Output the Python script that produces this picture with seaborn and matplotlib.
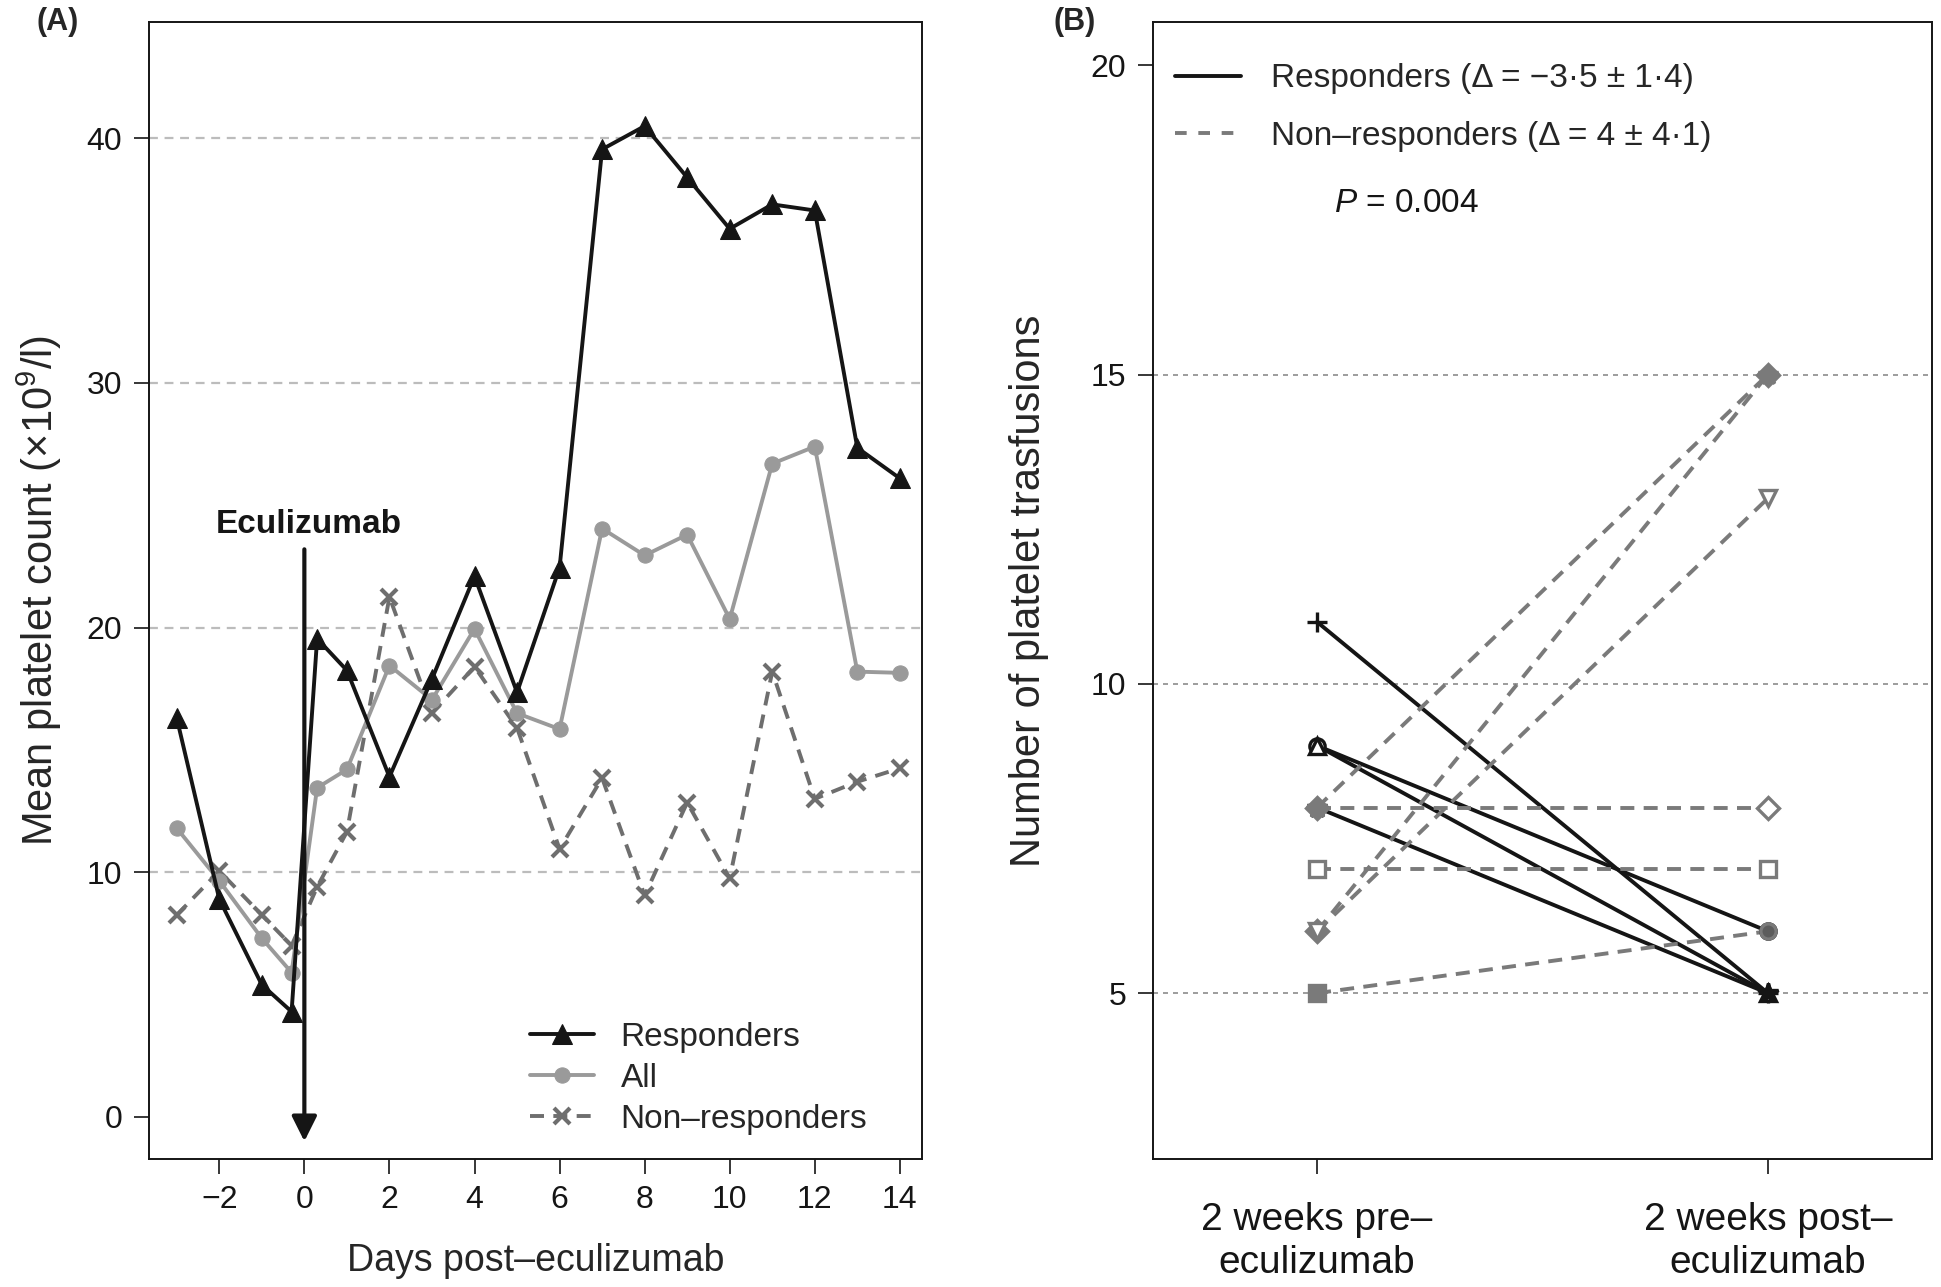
import pandas as pd
import matplotlib
matplotlib.use('Agg')
import matplotlib.pyplot as plt
import seaborn as sns
from matplotlib.lines import Line2D

# ---- panel A data: mean platelet count around eculizumab start
days = [-3, -2, -1, -0.3, 0.3, 1, 2, 3, 4, 5, 6, 7, 8, 9, 10, 11, 12, 13, 14]
responders = [16.3, 8.9, 5.4, 4.3, 19.55, 18.25, 13.9, 17.9, 22.1, 17.35, 22.45,
              39.55, 40.5, 38.4, 36.3, 37.3, 37.05, 27.35, 26.1]
all_patients = [11.8, 9.65, 7.3, 5.9, 13.45, 14.2, 18.45, 17.05, 19.95, 16.5, 15.85,
                24.05, 22.95, 23.8, 20.35, 26.7, 27.4, 18.2, 18.15]
non_responders = [8.25, 10.05, 8.25, 7.0, 9.4, 11.65, 21.25, 16.5, 18.4, 15.9, 10.95,
                  13.85, 9.05, 12.85, 9.75, 18.2, 13.0, 13.7, 14.25]
left_yticks = [0, 10, 20, 30, 40]
left_xticks = [-2, 0, 2, 4, 6, 8, 10, 12, 14]

# ---- panel B data: platelet transfusions per patient
patients = ['R1', 'R2', 'R3', 'R4', 'N1', 'N2', 'N3', 'N4', 'N5', 'N6']
groups = ['Responders'] * 4 + ['Non-responders'] * 6
pre_counts = [11, 9, 9, 8, 8, 6, 6, 8, 7, 5]
post_counts = [5, 6, 5, 5, 15, 15, 13, 8, 7, 6]
periods = ['2 weeks pre\u2013\neculizumab', '2 weeks post\u2013\neculizumab']
right_yticks = [5, 10, 15, 20]

# marker style per patient (pre, post): marker, filled
pre_style = [('+', False), ('o', False), ('^', False), ('*', True), ('*', True),
             ('D', True), ('v', False), ('D', True), ('s', False), ('s', True)]
post_style = [('+', False), ('o', True), ('^', False), ('*', True), ('*', True),
              ('D', True), ('v', False), ('D', False), ('s', False), ('o', True)]

BLACK = '#151515'
GRAY_ALL = '#9a9a9a'
GRAY_NR = '#6e6e6e'
GRAY_B = '#7a7a7a'

sns.set_style('ticks')
plt.rcParams['font.family'] = ['Liberation Sans', 'DejaVu Sans']
plt.rcParams['mathtext.fontset'] = 'custom'
plt.rcParams['mathtext.rm'] = 'Liberation Sans'
plt.rcParams['mathtext.it'] = 'Liberation Sans:italic'

fig = plt.figure(figsize=(19.41, 12.87), dpi=100)
ax1 = fig.add_axes([0.0766, 0.0995, 0.3984, 0.8835])
ax2 = fig.add_axes([0.5938, 0.0995, 0.4018, 0.8835])

# ================= panel A =================
for y in [10, 20, 30, 40]:
    ax1.axhline(y, color='#bcbcbc', lw=1.6, dashes=(4, 3), zorder=0)

sns.lineplot(x=days, y=responders, ax=ax1, color=BLACK, lw=2.8, marker='^',
             markersize=14, markeredgecolor=BLACK, label='Responders', sort=False, zorder=4)
sns.lineplot(x=days, y=all_patients, ax=ax1, color=GRAY_ALL, lw=2.8, marker='o',
             markersize=11, markeredgecolor=GRAY_ALL, label='All', sort=False, zorder=3)
sns.lineplot(x=days, y=non_responders, ax=ax1, color=GRAY_NR, lw=2.8, marker='x',
             markersize=12, markeredgewidth=3, markeredgecolor=GRAY_NR,
             label='Non\u2013responders', sort=False, zorder=2)
ax1.lines[-1].set_dashes((3.6, 2.4))

ax1.annotate('', xy=(0, -1.0), xytext=(0, 23.2),
             arrowprops=dict(arrowstyle='-|>', lw=3, color=BLACK, mutation_scale=38,
                             shrinkA=0, shrinkB=0), zorder=5)
ax1.text(0.1, 23.6, 'Eculizumab', ha='center', va='bottom', fontsize=24,
         fontweight='bold', color=BLACK)

ax1.set_xlim(-3.66, 14.52)
ax1.set_ylim(-1.72, 44.76)
ax1.set_xticks(left_xticks)
ax1.set_xticklabels(['\u22122' if t == -2 else str(t) for t in left_xticks])
ax1.set_yticks(left_yticks)
ax1.set_xlabel('Days post\u2013eculizumab', fontsize=27, labelpad=20)
ax1.set_ylabel('Mean platelet count (\u00d710$^{9}$/l)', fontsize=30, labelpad=16)

h, l = ax1.get_legend_handles_labels()
ax1.legend(h, l, loc='lower right', bbox_to_anchor=(0.968, -0.005), frameon=False,
           fontsize=24, handlelength=1.9, labelspacing=0.3, handletextpad=0.8)

# ================= panel B =================
for y in [5, 10, 15]:
    ax2.axhline(y, color='#8c8c8c', lw=1.2, dashes=(3, 3), zorder=0)

df = pd.DataFrame({
    'patient': patients * 2,
    'group': groups * 2,
    'pos': [0] * len(patients) + [1] * len(patients),
    'count': pre_counts + post_counts,
})
sns.lineplot(data=df, x='pos', y='count', units='patient', estimator=None,
             hue='group', style='group',
             palette={'Responders': BLACK, 'Non-responders': GRAY_B},
             dashes={'Responders': '', 'Non-responders': (3.6, 2.4)},
             lw=2.8, legend=False, ax=ax2, zorder=2)

# markers: responders first, non-responders drawn over them
for i in range(len(patients)):
    col = BLACK if groups[i] == 'Responders' else GRAY_B
    for pos, cnt, (mk, filled) in [(0, pre_counts[i], pre_style[i]),
                                   (1, post_counts[i], post_style[i])]:
        face = col if filled else 'white'
        if mk == 'o' and filled:
            face = '#5c5c5c'
        ms = 15 if mk == '*' else (14 if mk == '+' else 11)
        ax2.plot(pos, cnt, marker=mk, ms=ms, mfc=face, mec=col, mew=2.4,
                 ls='none', zorder=4)

ax2.set_xlim(-0.365, 1.365)
ax2.set_ylim(2.32, 20.7)
ax2.set_xticks([0, 1])
ax2.set_xticklabels(periods, fontsize=28, linespacing=1.25)
ax2.set_yticks(right_yticks)
ax2.set_xlabel('')
ax2.set_ylabel('Number of platelet trasfusions', fontsize=30, labelpad=30)

leg_handles = [Line2D([], [], color=BLACK, lw=2.8),
               Line2D([], [], color=GRAY_B, lw=2.8, dashes=(3, 3))]
leg_labels = ['Responders (\u0394 = \u22123\u00b75 \u00b1 1\u00b74)',
              'Non\u2013responders (\u0394 = 4 \u00b1 4\u00b71)']
ax2.legend(leg_handles, leg_labels, loc='upper left', bbox_to_anchor=(-0.01, 0.99),
           frameon=False, fontsize=24, handlelength=2.0, labelspacing=0.8,
           handletextpad=0.9)
ax2.text(0.232, 0.84, '$P$ = 0.004', transform=ax2.transAxes, fontsize=24,
         ha='left', va='center', color=BLACK)

for ax in (ax1, ax2):
    for sp in ax.spines.values():
        sp.set_visible(True)
        sp.set_linewidth(1.4)
        sp.set_color(BLACK)
    ax.tick_params(axis='both', direction='out', length=11, width=1.2,
                   labelsize=23, colors=BLACK, pad=8)
ax2.tick_params(axis='x', labelsize=28, pad=20)

fig.text(0.019, 0.983, '(A)', fontsize=22, fontweight='bold', va='center')
fig.text(0.543, 0.983, '(B)', fontsize=22, fontweight='bold', va='center')

fig.savefig('out.png', dpi=100)
